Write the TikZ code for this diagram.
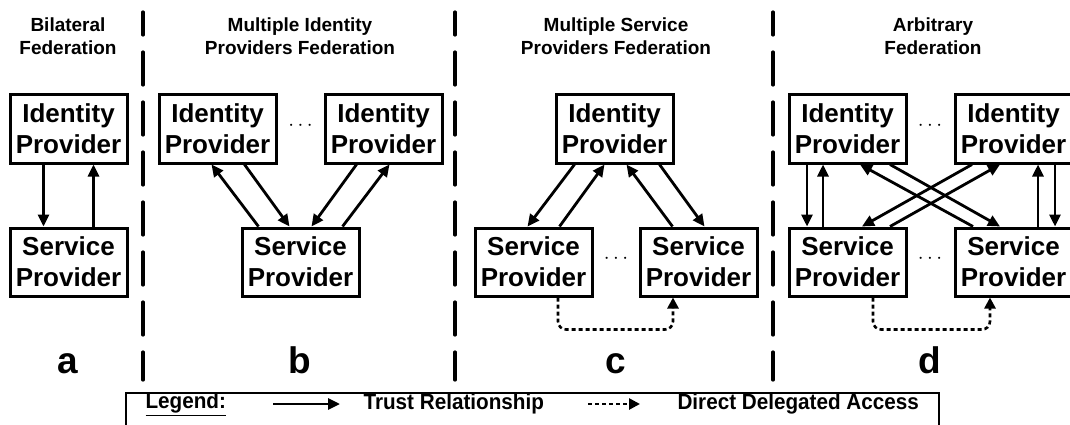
\documentclass[tikz,border=0pt]{standalone}
\usepackage{fontspec}
\setmainfont{Liberation Sans}
\newfontfamily\legendfont{Liberation Sans}[FakeStretch=0.94]
\usetikzlibrary{arrows.meta}
\begin{document}
\begin{tikzpicture}[x=1pt,y=-1pt,
	every node/.style={font=\bfseries},
	party/.style={draw,line width=3pt,minimum width=117pt,minimum height=68pt,align=center,inner sep=0pt,font=\fontsize{26}{31}\bfseries},
	heading/.style={align=center,font=\fontsize{19}{23}\bfseries},
	panel/.style={anchor=base,font=\fontsize{37}{37}\bfseries},
	trust/.style={line width=2.8pt,-{Triangle[length=12pt,width=11pt]}},
	delegated/.style={line width=2.6pt,dash pattern=on 4pt off 3pt,rounded corners=8pt,-{Triangle[length=11pt,width=11pt]}},
	divider/.style={line width=3.2pt,line cap=round,dash pattern=on 33pt off 17pt,dash phase=10pt},
	ellip/.style={font=\fontsize{20}{20}\selectfont},
	legendtext/.style={anchor=west,font=\fontsize{22}{22}\legendfont\bfseries}]
	\useasboundingbox (0,0) rectangle (1070,425);
	% headings
	\node[heading] (titleA) at (68,36) {Bilateral\\Federation};
	\node[heading] (titleB) at (300,36) {Multiple Identity\\Providers Federation};
	\node[heading] (titleC) at (616,36) {Multiple Service\\Providers Federation};
	\node[heading] (titleD) at (933,36) {Arbitrary\\Federation};
	% dividers
	\foreach \x in {143,455,773}
		\draw[divider] (\x,12) -- (\x,380);
	% a
	\node[party] (idpA) at (68.5,129) {Identity\\Provider};
	\node[party] (spA) at (68.5,262) {Service\\Provider};
	\draw[trust] ([xshift=-25pt]idpA.south) -- ([xshift=-25pt]spA.north);
	\draw[trust] ([xshift=25pt]spA.north) -- ([xshift=25pt]idpA.south);
	% b
	\node[party] (idpBl) at (217.5,129) {Identity\\Provider};
	\node[party] (idpBr) at (383.5,129) {Identity\\Provider};
	\node[party] (spB) at (300.5,262) {Service\\Provider};
	\node[ellip] (dotsB) at (300.5,126) {$\cdots$};
	\draw[trust] ([xshift=-42pt]spB.north) -- ([xshift=-6pt]idpBl.south);
	\draw[trust] ([xshift=27pt]idpBl.south) -- ([xshift=-11pt]spB.north);
	\draw[trust] ([xshift=-27pt]idpBr.south) -- ([xshift=11pt]spB.north);
	\draw[trust] ([xshift=42pt]spB.north) -- ([xshift=6pt]idpBr.south);
	% c
	\node[party] (idpC) at (614.5,129) {Identity\\Provider};
	\node[party] (spCl) at (533.5,262) {Service\\Provider};
	\node[party] (spCr) at (698.5,262) {Service\\Provider};
	\node[ellip] (dotsC) at (616,259) {$\cdots$};
	\draw[trust] ([xshift=-40pt]idpC.south) -- ([xshift=-6pt]spCl.north);
	\draw[trust] ([xshift=26pt]spCl.north) -- ([xshift=-10pt]idpC.south);
	\draw[trust] ([xshift=-26pt]spCr.north) -- ([xshift=12pt]idpC.south);
	\draw[trust] ([xshift=45pt]idpC.south) -- ([xshift=6pt]spCr.north);
	\draw[delegated] ([xshift=24.5pt]spCl.south) -- ++(0,32) -| ([xshift=-25.5pt]spCr.south);
	% d
	\node[party] (idpDl) at (847.5,129) {Identity\\Provider};
	\node[party] (idpDr) at (1013.5,129) {Identity\\Provider};
	\node[party] (spDl) at (847.5,262) {Service\\Provider};
	\node[party] (spDr) at (1013.5,262) {Service\\Provider};
	\node[ellip] (dotsDt) at (930,126) {$\cdots$};
	\node[ellip] (dotsDb) at (930,259) {$\cdots$};
	\draw[trust] ([xshift=-40.5pt]idpDl.south) -- ([xshift=-40.5pt]spDl.north);
	\draw[trust] ([xshift=-24.5pt]spDl.north) -- ([xshift=-24.5pt]idpDl.south);
	\draw[trust] ([xshift=24.5pt]spDr.north) -- ([xshift=24.5pt]idpDr.south);
	\draw[trust] ([xshift=41.5pt]idpDr.south) -- ([xshift=41.5pt]spDr.north);
	\draw[trust] ([xshift=42.5pt]idpDl.south) -- ([xshift=-13.5pt]spDr.north);
	\draw[trust] ([xshift=-40.5pt]spDr.north) -- ([xshift=12.5pt]idpDl.south);
	\draw[trust] ([xshift=-41.5pt]idpDr.south) -- ([xshift=14.5pt]spDl.north);
	\draw[trust] ([xshift=42.5pt]spDl.north) -- ([xshift=-13.5pt]idpDr.south);
	\draw[delegated] ([xshift=25.5pt]spDl.south) -- ++(0,32) -| ([xshift=-23.5pt]spDr.south);
	% panel letters
	\node[panel] (labA) at (68,373) {a};
	\node[panel] (labB) at (300,373) {b};
	\node[panel] (labC) at (616,373) {c};
	\node[panel] (labD) at (930,373) {d};
	% legend
	\draw[line width=2.4pt] (126,440) -- (126,393) -- (939,393) -- (939,440);
	\node[legendtext] (legendHead) at (142,404) {\underline{Legend:}};
	\coordinate (trustL) at (273,404);
	\coordinate (trustR) at (340,404);
	\draw[trust] (trustL) -- (trustR);
	\node[legendtext] (trustText) at (360,404) {Trust Relationship};
	\coordinate (delegL) at (588,404);
	\coordinate (delegR) at (640,404);
	\draw[delegated] (delegL) -- (delegR);
	\node[legendtext] (delegText) at (674,404) {Direct Delegated Access};
\end{tikzpicture}
\end{document}
